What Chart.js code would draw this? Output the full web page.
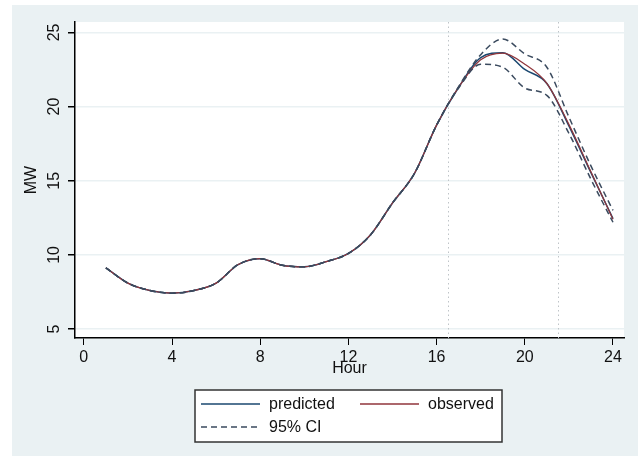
<!DOCTYPE html>
<html lang="en">
<head>
    <meta charset="UTF-8">
    <title>Hourly load: predicted vs observed</title>
    <script src="https://cdn.jsdelivr.net/npm/chart.js@4.4.1/dist/chart.umd.min.js"></script>
    <style>
        body {
            margin: 0;
            background: #ffffff;
        }
        #chart {
            display: block;
        }
    </style>
</head>
<body>
    <canvas id="chart" width="638" height="458"></canvas>

    <script>
        const hours = [1, 2, 3, 4, 5, 6, 7, 8, 9, 10, 11, 12, 13, 14, 15, 16, 17, 18, 19, 20, 21, 22, 23, 24];
        const predicted = [9.13, 8.1, 7.6, 7.42, 7.6, 8.1, 9.35, 9.75, 9.3, 9.2, 9.55, 10.1, 11.35, 13.5, 15.5, 18.75, 21.3, 23.3, 23.63, 22.5, 21.56, 18.7, 15.55, 12.45];
        const observed = [9.13, 8.1, 7.6, 7.42, 7.6, 8.1, 9.35, 9.75, 9.3, 9.2, 9.55, 10.1, 11.35, 13.5, 15.5, 18.75, 21.3, 23.15, 23.6, 22.85, 21.56, 18.8, 15.6, 12.4];
        const ciUpper = [9.13, 8.1, 7.6, 7.42, 7.6, 8.1, 9.35, 9.75, 9.3, 9.2, 9.55, 10.1, 11.35, 13.5, 15.5, 18.75, 21.35, 23.5, 24.55, 23.55, 22.65, 19.3, 16.0, 13.0];
        const ciLower = [9.13, 8.1, 7.6, 7.42, 7.6, 8.1, 9.35, 9.75, 9.3, 9.2, 9.55, 10.1, 11.35, 13.5, 15.5, 18.75, 21.25, 22.85, 22.65, 21.25, 20.75, 18.2, 15.1, 12.2];

        const xTicks = [0, 4, 8, 12, 16, 20, 24];
        const yTicks = [5, 10, 15, 20, 25];
        const refHours = [16.5, 21.5];

        const NAVY = '#1a476f';
        const MAROON = '#90353b';
        const CI_COLOR = '#3a4a5e';
        const PANEL = '#eaf1f3';
        const FONT = '"Liberation Sans", Arial, sans-serif';
        const TEXT_SIZE = 16;

        const toPoints = ys => hours.map((h, i) => ({ x: h, y: ys[i] }));

        // Stata-style background: bluish panel with a white plot region
        const backdrop = {
            id: 'backdrop',
            beforeDraw(chart) {
                const { ctx, chartArea } = chart;
                ctx.save();
                ctx.fillStyle = PANEL;
                ctx.fillRect(12, 5, chart.width - 12, chart.height - 7);
                ctx.fillStyle = '#ffffff';
                ctx.fillRect(chartArea.left, chartArea.top, chartArea.right - chartArea.left, chartArea.bottom - chartArea.top);
                ctx.restore();
            }
        };

        // dotted vertical lines marking the peak window
        const refLines = {
            id: 'refLines',
            beforeDatasetsDraw(chart) {
                const { ctx, chartArea, scales } = chart;
                ctx.save();
                ctx.strokeStyle = '#bfc4c8';
                ctx.lineWidth = 1;
                ctx.setLineDash([1.5, 3]);
                refHours.forEach(h => {
                    const px = Math.round(scales.x.getPixelForValue(h)) + 0.5;
                    ctx.beginPath();
                    ctx.moveTo(px, chartArea.top);
                    ctx.lineTo(px, chartArea.bottom);
                    ctx.stroke();
                });
                ctx.restore();
            }
        };

        // boxed two-column legend under the axis title
        const boxLegend = {
            id: 'boxLegend',
            afterDraw(chart) {
                const { ctx } = chart;
                const ds = chart.data.datasets;
                const items = [
                    { d: ds[0], lx: 201, tx: 269, y: 404 },
                    { d: ds[1], lx: 360, tx: 428, y: 404 },
                    { d: ds[2], lx: 201, tx: 269, y: 427 }
                ];
                ctx.save();
                ctx.fillStyle = '#ffffff';
                ctx.fillRect(195, 390, 307, 52);
                ctx.strokeStyle = '#333333';
                ctx.lineWidth = 1.5;
                ctx.strokeRect(195, 390, 307, 52);
                ctx.font = TEXT_SIZE + 'px ' + FONT;
                ctx.textBaseline = 'middle';
                items.forEach(it => {
                    ctx.strokeStyle = it.d.borderColor;
                    ctx.lineWidth = 1.5;
                    ctx.setLineDash(it.d.borderDash || []);
                    ctx.beginPath();
                    ctx.moveTo(it.lx, it.y);
                    ctx.lineTo(it.lx + 59, it.y);
                    ctx.stroke();
                    ctx.setLineDash([]);
                    ctx.fillStyle = '#111111';
                    ctx.fillText(it.d.label, it.tx, it.y + 1);
                });
                ctx.restore();
            }
        };

        new Chart(document.getElementById('chart'), {
            type: 'line',
            data: {
                datasets: [
                    {
                        label: 'predicted',
                        data: toPoints(predicted),
                        borderColor: NAVY,
                        borderWidth: 1.5,
                        order: 3
                    },
                    {
                        label: 'observed',
                        data: toPoints(observed),
                        borderColor: MAROON,
                        borderWidth: 1.2,
                        order: 2
                    },
                    {
                        label: '95% CI',
                        data: toPoints(ciUpper),
                        borderColor: CI_COLOR,
                        borderWidth: 1.5,
                        borderDash: [6, 4],
                        order: 1
                    },
                    {
                        label: '95% CI lower',
                        data: toPoints(ciLower),
                        borderColor: CI_COLOR,
                        borderWidth: 1.5,
                        borderDash: [6, 4],
                        order: 1
                    }
                ]
            },
            options: {
                responsive: false,
                animation: false,
                events: [],
                elements: {
                    point: { radius: 0 },
                    line: { cubicInterpolationMode: 'monotone', fill: false }
                },
                layout: {
                    padding: { left: 12, top: 22, right: 14, bottom: 80 }
                },
                plugins: {
                    legend: { display: false },
                    tooltip: { enabled: false }
                },
                scales: {
                    x: {
                        type: 'linear',
                        min: -0.4,
                        max: 24.5,
                        afterBuildTicks: s => { s.ticks = xTicks.map(v => ({ value: v })); },
                        afterFit: s => { s.height = 40; },
                        grid: {
                            drawOnChartArea: false,
                            tickLength: 7,
                            tickColor: '#000000'
                        },
                        border: { color: '#000000', width: 1.5 },
                        ticks: {
                            color: '#111111',
                            font: { family: FONT, size: TEXT_SIZE },
                            padding: 3,
                            maxRotation: 0
                        },
                        title: {
                            display: true,
                            text: 'Hour',
                            color: '#111111',
                            font: { family: FONT, size: TEXT_SIZE },
                            padding: 0
                        }
                    },
                    y: {
                        type: 'linear',
                        min: 4.4,
                        max: 25.7,
                        afterBuildTicks: s => { s.ticks = yTicks.map(v => ({ value: v })); },
                        afterFit: s => { s.width = 63; },
                        grid: {
                            color: PANEL,
                            lineWidth: 1.5,
                            tickLength: 7,
                            tickColor: '#000000'
                        },
                        border: { color: '#000000', width: 1.5 },
                        ticks: {
                            color: '#111111',
                            font: { family: FONT, size: TEXT_SIZE },
                            minRotation: 90,
                            maxRotation: 90,
                            crossAlign: 'center',
                            padding: 5
                        },
                        title: {
                            display: true,
                            text: 'MW',
                            color: '#111111',
                            font: { family: FONT, size: TEXT_SIZE },
                            padding: { top: 10, bottom: 0 }
                        }
                    }
                }
            },
            plugins: [backdrop, refLines, boxLegend]
        });
    </script>
</body>
</html>
